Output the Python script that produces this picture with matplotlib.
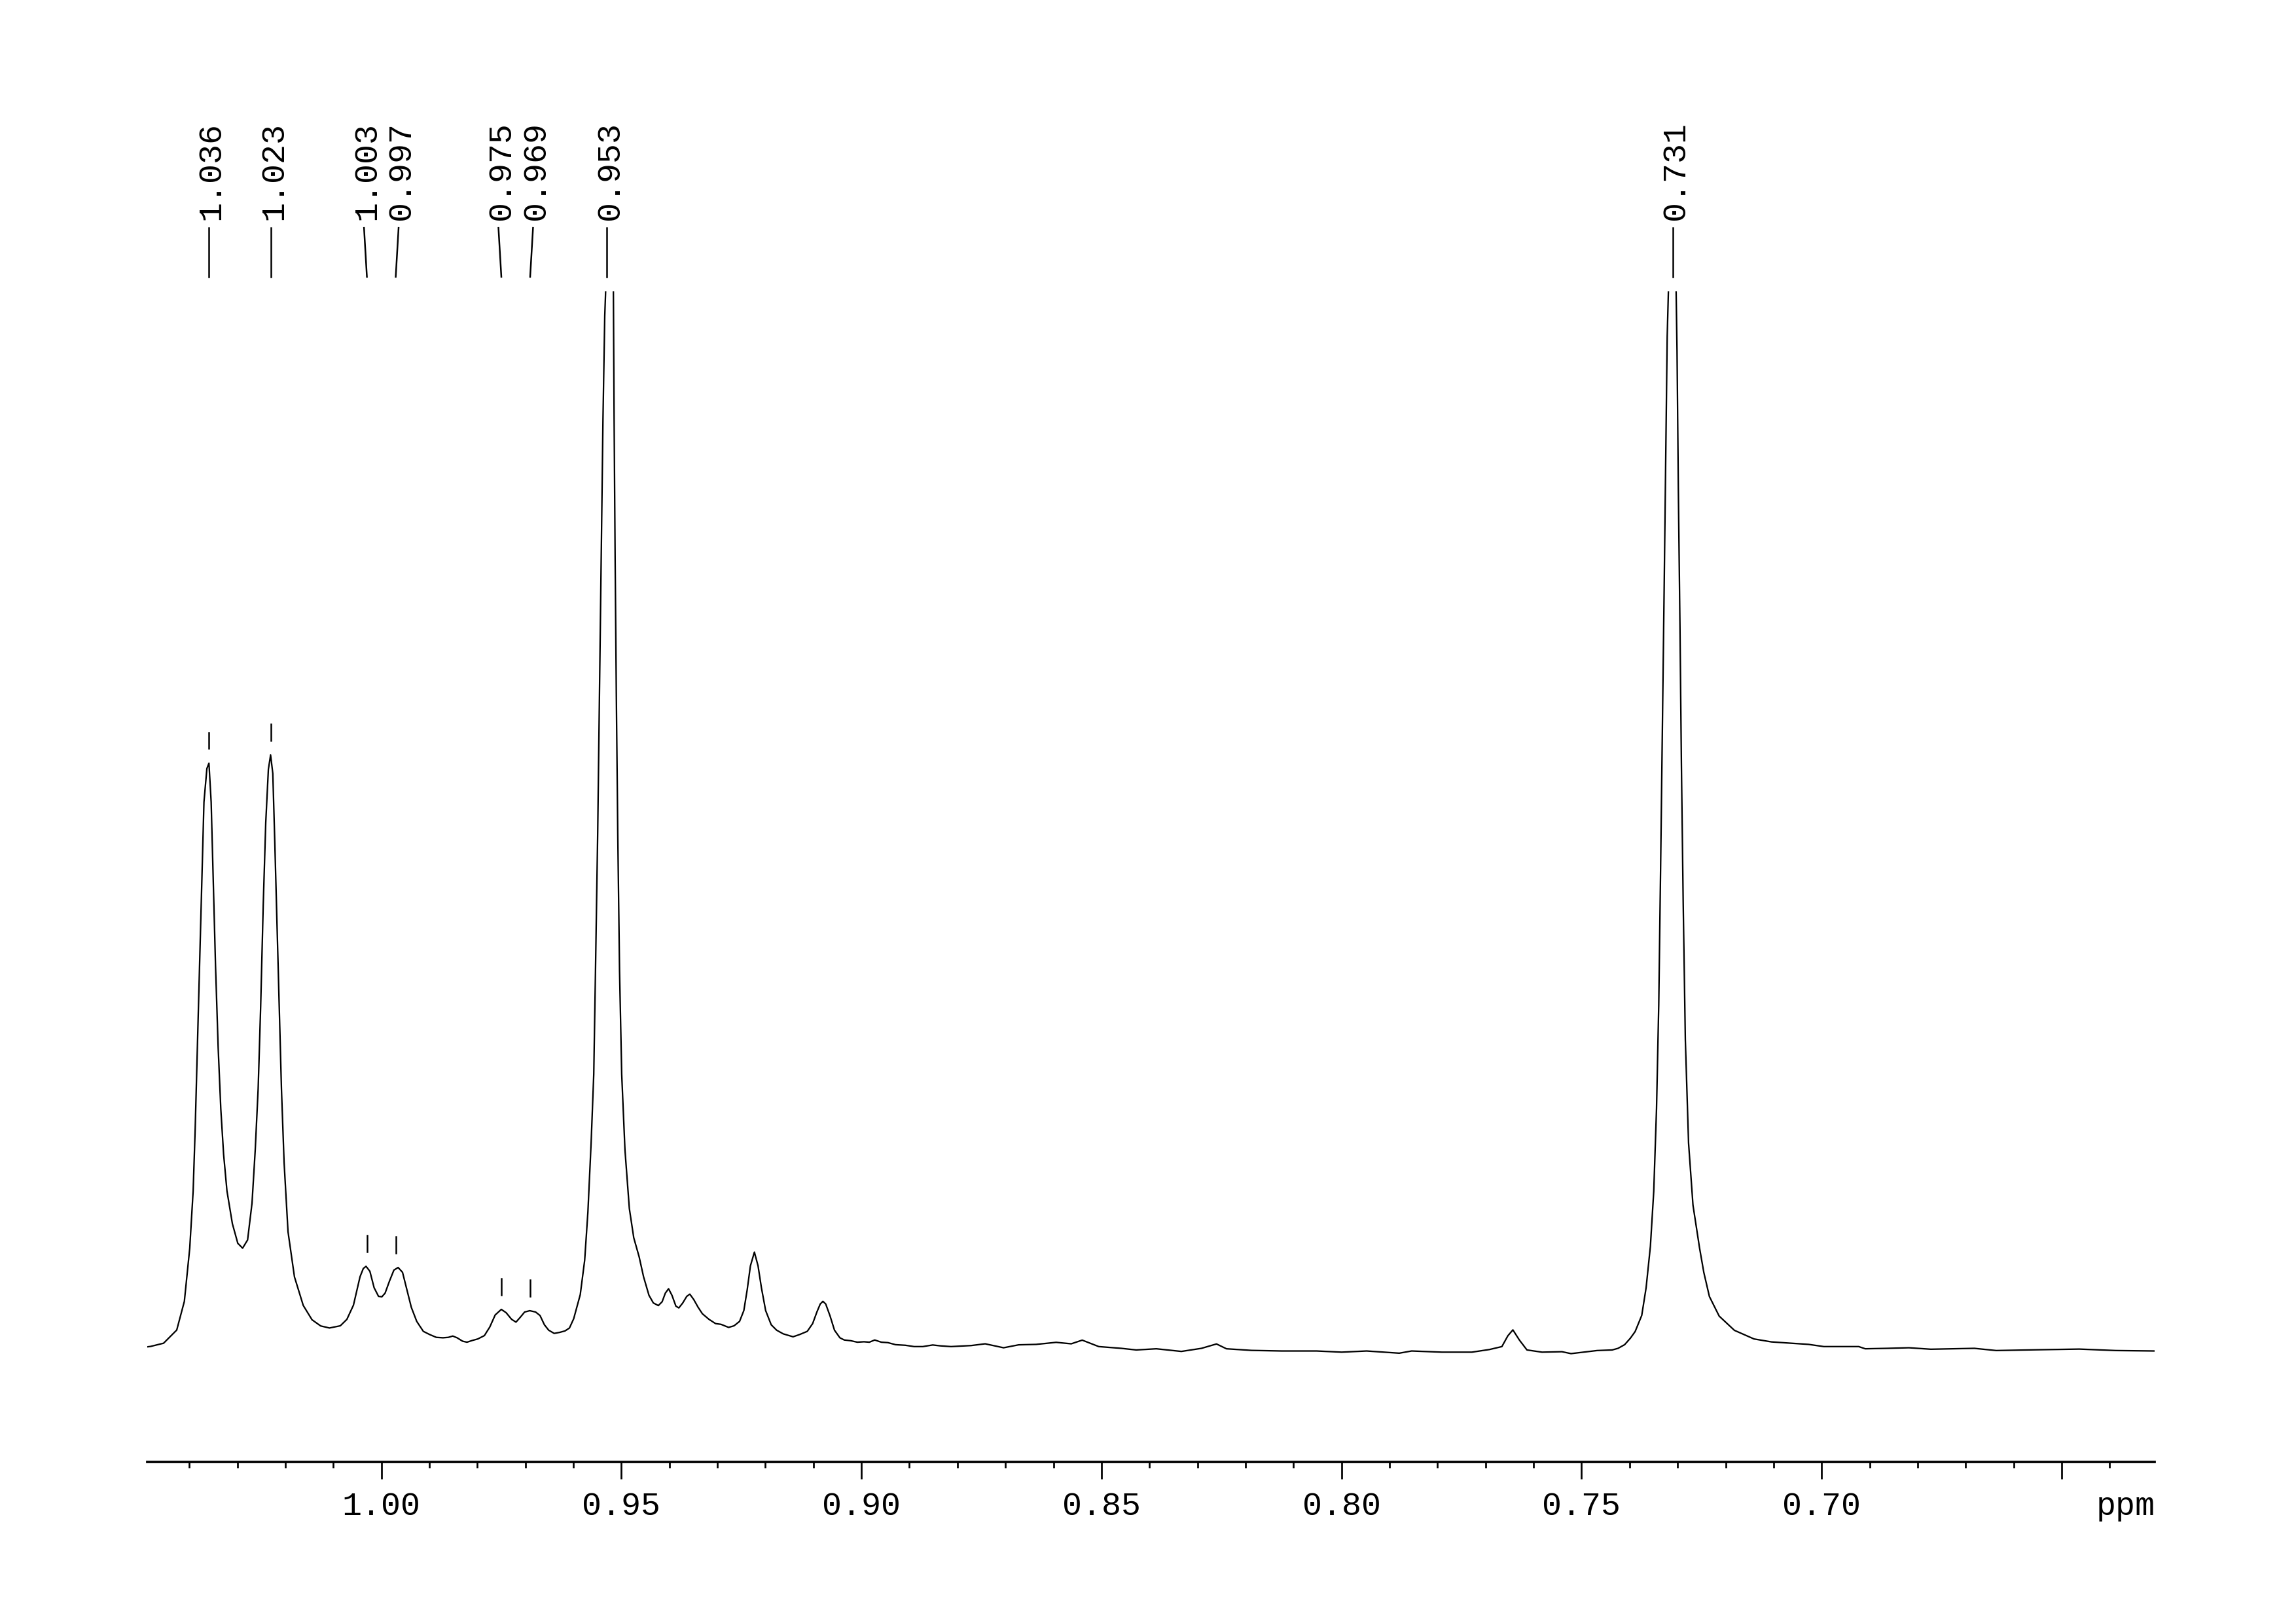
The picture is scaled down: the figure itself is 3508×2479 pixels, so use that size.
import numpy as np
import matplotlib.pyplot as plt
from matplotlib import transforms
from matplotlib.ticker import MultipleLocator

plt.rcParams['font.family'] = ['Liberation Mono', 'DejaVu Sans Mono']

# spectrum (chemical shift in ppm, intensity in arbitrary units)
ppm = [
    1.04880, 1.04807, 1.04535, 1.04261, 1.04102, 1.03990, 1.03919, 1.03877, 1.03831, 1.03785,
    1.03739, 1.03694, 1.03633, 1.03590, 1.03544, 1.03498, 1.03453, 1.03398, 1.03343, 1.03285,
    1.03215, 1.03102, 1.02989, 1.02889, 1.02785, 1.02693, 1.02626, 1.02565, 1.02513, 1.02459,
    1.02407, 1.02352, 1.02306, 1.02260, 1.02218, 1.02172, 1.02126, 1.02080, 1.02025, 1.01943,
    1.01809, 1.01626, 1.01443, 1.01263, 1.01080, 1.00854, 1.00717, 1.00580, 1.00443, 1.00375,
    1.00318, 1.00238, 1.00150, 1.00058, 0.99988, 0.99921, 0.99830, 0.99738, 0.99650, 0.99558,
    0.99467, 0.99375, 0.99262, 0.99125, 0.98991, 0.98854, 0.98716, 0.98604, 0.98512, 0.98421,
    0.98308, 0.98216, 0.98103, 0.97991, 0.97853, 0.97740, 0.97628, 0.97500, 0.97399, 0.97286,
    0.97195, 0.97103, 0.97015, 0.96908, 0.96786, 0.96694, 0.96603, 0.96514, 0.96399, 0.96286,
    0.96173, 0.96081, 0.95993, 0.95856, 0.95764, 0.95697, 0.95630, 0.95575, 0.95539, 0.95493,
    0.95456, 0.95420, 0.95383, 0.95346, 0.95328, 0.95246, 0.95166, 0.95151, 0.95130, 0.95105,
    0.95075, 0.95038, 0.94993, 0.94925, 0.94834, 0.94742, 0.94630, 0.94538, 0.94425, 0.94334,
    0.94230, 0.94151, 0.94084, 0.94017, 0.93946, 0.93864, 0.93803, 0.93721, 0.93638, 0.93574,
    0.93492, 0.93401, 0.93312, 0.93175, 0.93038, 0.92925, 0.92766, 0.92653, 0.92538, 0.92449,
    0.92379, 0.92312, 0.92229, 0.92153, 0.92083, 0.91995, 0.91879, 0.91766, 0.91629, 0.91424,
    0.91290, 0.91128, 0.91016, 0.90924, 0.90857, 0.90802, 0.90744, 0.90653, 0.90561, 0.90448,
    0.90357, 0.90220, 0.90085, 0.89948, 0.89835, 0.89723, 0.89585, 0.89448, 0.89289, 0.89085,
    0.88902, 0.88722, 0.88515, 0.88356, 0.88134, 0.87716, 0.87423, 0.87039, 0.86725, 0.86362,
    0.85944, 0.85630, 0.85401, 0.85056, 0.84587, 0.84276, 0.83858, 0.83336, 0.82918, 0.82604,
    0.82397, 0.81875, 0.81250, 0.80518, 0.79999, 0.79478, 0.78798, 0.78539, 0.77910, 0.77285,
    0.76919, 0.76660, 0.76535, 0.76431, 0.76294, 0.76138, 0.75824, 0.75409, 0.75220, 0.74888,
    0.74677, 0.74363, 0.74241, 0.74104, 0.73982, 0.73884, 0.73747, 0.73656, 0.73567, 0.73497,
    0.73439, 0.73393, 0.73354, 0.73317, 0.73281, 0.73247, 0.73217, 0.73192, 0.73113, 0.73031,
    0.73012, 0.72985, 0.72951, 0.72921, 0.72884, 0.72839, 0.72772, 0.72680, 0.72543, 0.72454,
    0.72338, 0.72134, 0.71817, 0.71408, 0.71045, 0.70591, 0.70271, 0.69954, 0.69228, 0.69091,
    0.68636, 0.68182, 0.67727, 0.67273, 0.66818, 0.66364, 0.65550, 0.64635, 0.63872, 0.63061,
]
intensity = [
    -0.5, -0.2, 2.0, 11.0, 30.6, 66.9, 106.0, 147.9, 203.8, 259.7,
    315.5, 371.4, 394.3, 398.0, 371.4, 315.5, 259.7, 203.8, 161.9, 131.1,
    106.0, 83.6, 70.2, 66.9, 72.5, 97.6, 133.9, 175.8, 231.7, 301.6,
    357.4, 393.8, 403.6, 391.0, 343.5, 287.6, 231.7, 175.8, 125.5, 78.1,
    47.3, 27.8, 18.0, 13.8, 12.4, 13.9, 18.3, 28.0, 47.4, 53.0,
    54.5, 51.1, 39.9, 34.0, 33.7, 36.2, 44.4, 51.9, 53.7, 50.4,
    38.5, 26.5, 16.9, 10.1, 7.9, 6.0, 5.7, 6.0, 6.9, 5.7,
    3.4, 2.7, 3.9, 4.9, 7.2, 13.1, 21.3, 25.1, 22.8, 18.3,
    16.4, 19.8, 23.3, 24.2, 23.3, 20.9, 14.6, 10.9, 8.7, 9.4,
    10.4, 12.4, 18.7, 35.2, 58.7, 91.6, 138.7, 185.7, 256.3, 350.4,
    444.5, 538.6, 632.7, 703.3, 719.7, 849.0, 719.7, 632.7, 538.6, 444.5,
    350.4, 256.3, 185.7, 134.0, 94.0, 74.0, 61.0, 47.4, 34.7, 29.5,
    27.7, 30.3, 36.2, 39.2, 34.7, 27.3, 26.1, 29.5, 34.0, 35.5,
    31.8, 26.5, 22.1, 18.3, 15.4, 14.9, 12.8, 13.9, 16.9, 24.3,
    38.5, 54.8, 64.2, 54.8, 39.9, 24.3, 14.6, 10.9, 8.4, 6.4,
    7.9, 10.1, 15.4, 23.6, 28.8, 30.6, 28.8, 20.6, 10.9, 5.7,
    4.2, 3.7, 2.7, 3.0, 2.7, 4.2, 2.7, 2.4, 1.0, 0.6,
    -0.3, -0.3, 0.8, 0.2, -0.3, 0.4, 1.6, -1.1, 0.9, 1.2,
    2.6, 1.6, 4.1, -0.3, -1.5, -2.6, -1.8, -3.6, -1.5, 1.5,
    -1.8, -2.9, -3.3, -3.3, -4.1, -3.3, -4.8, -3.3, -4.1, -4.1,
    -2.3, -0.3, 7.1, 11.1, 4.1, -2.6, -4.1, -3.8, -5.1, -3.8,
    -3.0, -2.6, -1.5, 1.0, 5.5, 10.0, 21.0, 39.9, 68.1, 105.7,
    162.2, 232.8, 326.9, 421.0, 515.1, 609.2, 689.2, 719.7, 849.0, 719.7,
    679.7, 585.6, 491.6, 397.4, 303.3, 209.2, 138.7, 96.3, 67.0, 50.3,
    33.9, 20.5, 10.8, 4.9, 2.9, 1.9, 1.2, -0.3, -0.3, -1.8,
    -1.5, -1.1, -2.1, -1.8, -1.5, -3.0, -2.5, -2.0, -3.0, -3.3,
]

# picked peaks
peaks = [1.036, 1.023, 1.003, 0.997, 0.975, 0.969, 0.953, 0.731]

major_ticks = [1.00, 0.95, 0.90, 0.85, 0.80, 0.75, 0.70, 0.65]
major_labels = ['1.00', '0.95', '0.90', '0.85', '0.80', '0.75', '0.70', '']

ppm = np.array(ppm)
intensity = np.array(intensity)

fig = plt.figure(figsize=(3508 / 300, 2479 / 300), dpi=300)
ax = fig.add_axes([0.06403, 0.09928, 0.87449, 0.72112])

ax.plot(ppm, intensity, color='black', lw=0.55)
ax.set_xlim(1.0488, 0.6306)
ylo, yhi = -79, 720
ax.set_ylim(ylo, yhi)

for s in ['top', 'left', 'right']:
    ax.spines[s].set_visible(False)
ax.spines['bottom'].set_linewidth(0.9)
ax.yaxis.set_visible(False)

ax.set_xticks(major_ticks)
ax.set_xticklabels(major_labels)
ax.xaxis.set_minor_locator(MultipleLocator(0.01))
tick_len = 6.2
tick_pad = 4.6
ax.tick_params(axis='x', which='major', length=tick_len, width=0.65, pad=tick_pad,
               labelsize=12, direction='out')
ax.tick_params(axis='x', which='minor', length=2.2, width=0.65, direction='out')
ax.annotate('ppm', xy=(1, 0), xycoords='axes fraction',
            xytext=(0, -(tick_len + tick_pad)), textcoords='offset points',
            ha='right', va='top', fontsize=12)

# spread the labels so that they do not overlap
min_sep = 0.0072
pos = list(peaks)
for _ in range(50):
    moved = False
    for i in range(len(pos) - 1):
        gap = pos[i] - pos[i + 1]
        if gap < min_sep - 1e-9:
            d = (min_sep - gap) / 2
            pos[i] += d
            pos[i + 1] -= d
            moved = True
    if not moved:
        break

txt_trans = transforms.offset_copy(ax.transData, fig=fig, x=1.0, y=0, units='points')
for p, lx in zip(peaks, pos):
    near = np.abs(ppm - p) < 0.0015
    h = intensity[near].max()
    if h + 21 < yhi:
        ax.plot([p, p], [h + 10, h + 21], color='black', lw=0.6)
    ax.plot([lx, p], [763.4, 730], color='black', lw=0.6, clip_on=False)
    ax.text(lx, 769, f'{p:.3f}', rotation=90, ha='center', va='bottom',
            fontsize=12, transform=txt_trans, clip_on=False)

fig.savefig('out.png', dpi=300, facecolor='white')
